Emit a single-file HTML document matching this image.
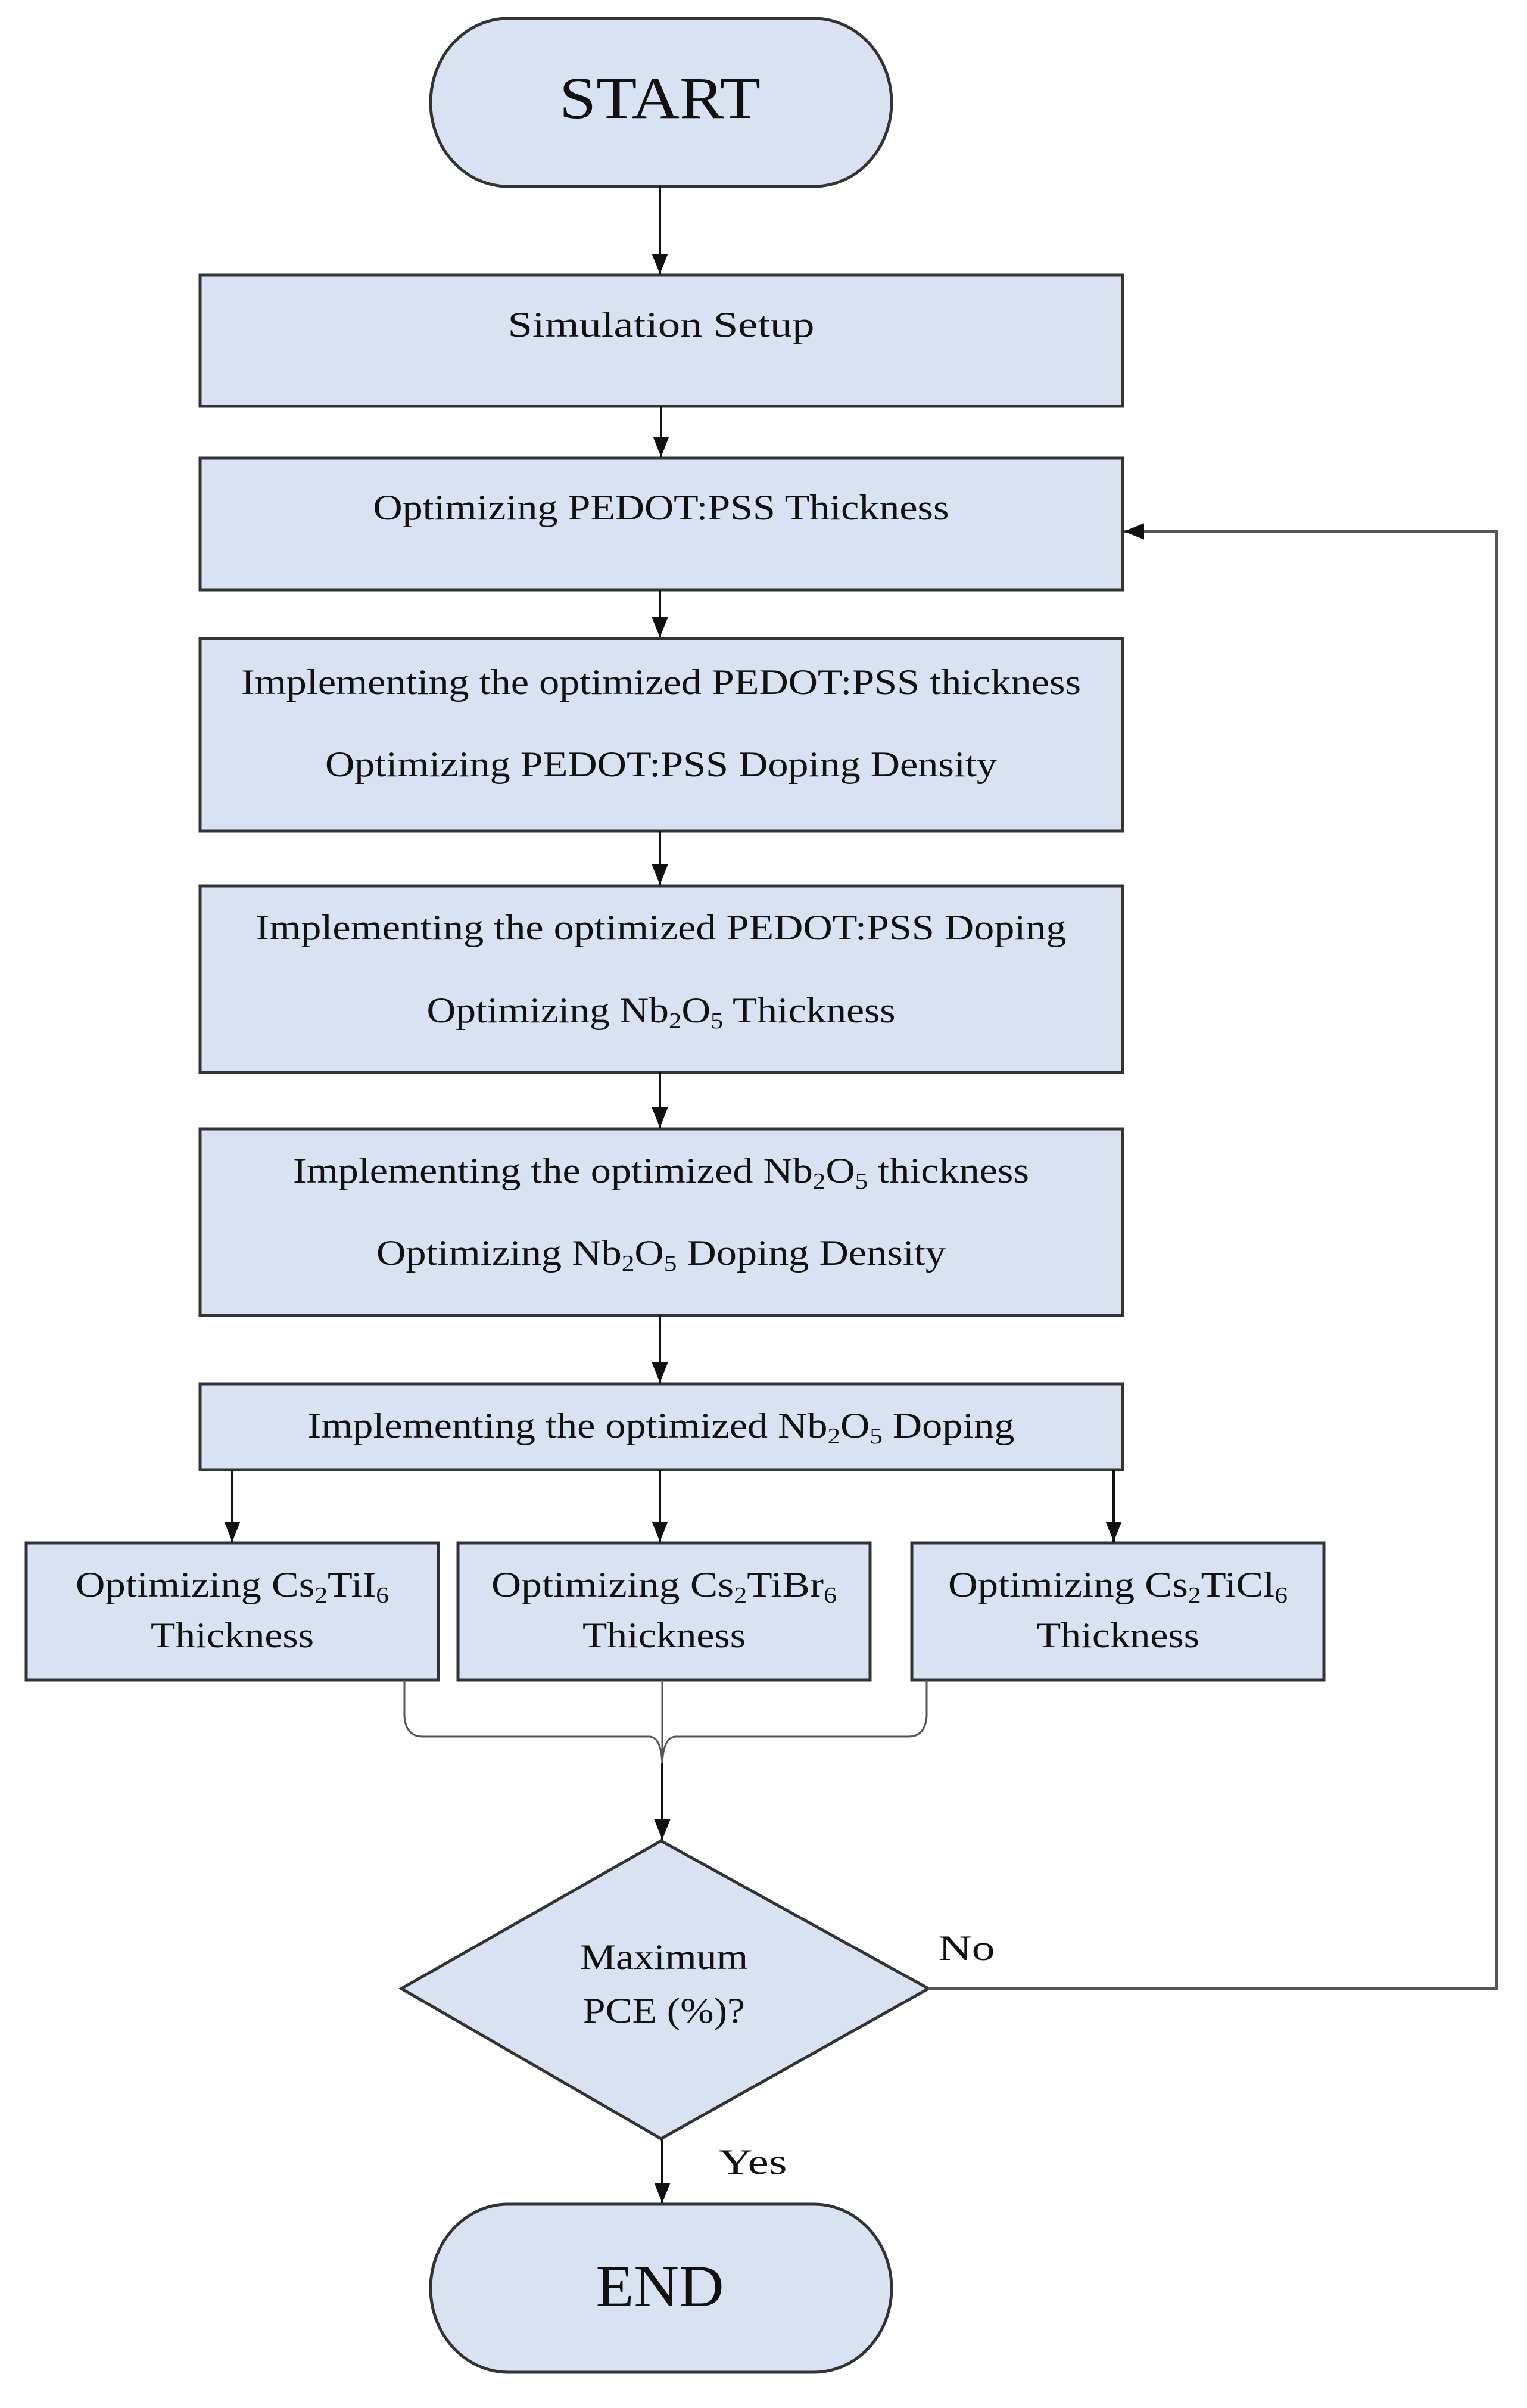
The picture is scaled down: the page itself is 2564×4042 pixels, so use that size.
<!DOCTYPE html>
<html><head><meta charset="utf-8"><style>html,body{margin:0;padding:0;background:#fff}svg{display:block}</style></head>
<body>
<svg width="2564" height="4042" viewBox="0 0 2564 4042" xmlns="http://www.w3.org/2000/svg" font-family="Liberation Serif, serif" fill="#111">
<defs><marker id="a" markerWidth="10" markerHeight="10" refX="9" refY="5" orient="auto" markerUnits="userSpaceOnUse" viewBox="0 0 10 10"><path d="M0,0 L10,5 L0,10 z" fill="#111"/></marker>
<marker id="b" viewBox="0 0 10 10" refX="10" refY="5" markerWidth="34" markerHeight="34" orient="auto" markerUnits="userSpaceOnUse"><path d="M0,1 L10,5 L0,9 z" fill="#111"/></marker></defs>
<g fill="#d9e2f2" stroke="#333" stroke-width="5">
<rect x="723" y="31" width="774" height="282" rx="130" ry="141"/>
<rect x="336" y="462" width="1549" height="220"/>
<rect x="336" y="769" width="1549" height="221"/>
<rect x="336" y="1072" width="1549" height="323"/>
<rect x="336" y="1487" width="1549" height="313"/>
<rect x="336" y="1895" width="1549" height="313"/>
<rect x="336" y="2323" width="1549" height="144"/>
<rect x="44" y="2590" width="692" height="230"/>
<rect x="769" y="2590" width="692" height="230"/>
<rect x="1531" y="2590" width="692" height="230"/>
<polygon points="1110,3090 1559,3338 1110,3590 674,3338"/>
<rect x="723" y="3700" width="774" height="282" rx="130" ry="141"/>
</g>
<g stroke="#111" stroke-width="4" fill="none" marker-end="url(#b)">
<line x1="1108" y1="313" x2="1108" y2="460"/>
<line x1="1110" y1="682" x2="1110" y2="767"/>
<line x1="1108" y1="990" x2="1108" y2="1070"/>
<line x1="1108" y1="1395" x2="1108" y2="1485"/>
<line x1="1108" y1="1800" x2="1108" y2="1893"/>
<line x1="1108" y1="2208" x2="1108" y2="2321"/>
<line x1="390" y1="2467" x2="390" y2="2588"/>
<line x1="1108" y1="2467" x2="1108" y2="2588"/>
<line x1="1870" y1="2467" x2="1870" y2="2588"/>
<line x1="1112" y1="2960" x2="1112" y2="3088"/>
<line x1="1112" y1="3590" x2="1112" y2="3698"/>
<polyline points="1559,3338 2513,3338 2513,892 1887,892" stroke="#555"/>
</g>
<g stroke="#555" stroke-width="3" fill="none">
<path d="M679,2820 L679,2880 Q681,2915 710,2915 L1090,2915 Q1110,2915 1112,2960"/>
<path d="M1556,2820 L1556,2880 Q1554,2915 1525,2915 L1135,2915 Q1114,2915 1112,2960"/>
<line x1="1112" y1="2820" x2="1112" y2="2960"/>
</g>
<g text-anchor="middle" font-size="60" lengthAdjust="spacingAndGlyphs">
<text x="1108" y="198" font-size="100" textLength="338" lengthAdjust="spacingAndGlyphs">START</text>
<text x="1110" y="565" textLength="515" lengthAdjust="spacingAndGlyphs">Simulation Setup</text>
<text x="1110" y="872" textLength="967" lengthAdjust="spacingAndGlyphs">Optimizing PEDOT:PSS Thickness</text>
<text x="1110" y="1165" textLength="1410" lengthAdjust="spacingAndGlyphs">Implementing the optimized PEDOT:PSS thickness</text>
<text x="1110" y="1303" textLength="1128" lengthAdjust="spacingAndGlyphs">Optimizing PEDOT:PSS Doping Density</text>
<text x="1110" y="1577" textLength="1361" lengthAdjust="spacingAndGlyphs">Implementing the optimized PEDOT:PSS Doping</text>
<text x="1110" y="1716" textLength="787" lengthAdjust="spacingAndGlyphs">Optimizing Nb<tspan font-size="38" dy="10">2</tspan><tspan dy="-10">O</tspan><tspan font-size="38" dy="10">5</tspan><tspan dy="-10"> Thickness</tspan></text>
<text x="1110" y="1985" textLength="1236" lengthAdjust="spacingAndGlyphs">Implementing the optimized Nb<tspan font-size="38" dy="10">2</tspan><tspan dy="-10">O</tspan><tspan font-size="38" dy="10">5</tspan><tspan dy="-10"> thickness</tspan></text>
<text x="1110" y="2123" textLength="956" lengthAdjust="spacingAndGlyphs">Optimizing Nb<tspan font-size="38" dy="10">2</tspan><tspan dy="-10">O</tspan><tspan font-size="38" dy="10">5</tspan><tspan dy="-10"> Doping Density</tspan></text>
<text x="1110" y="2413" textLength="1187" lengthAdjust="spacingAndGlyphs">Implementing the optimized Nb<tspan font-size="38" dy="10">2</tspan><tspan dy="-10">O</tspan><tspan font-size="38" dy="10">5</tspan><tspan dy="-10">  Doping</tspan></text>
<text x="390" y="2680" textLength="526" lengthAdjust="spacingAndGlyphs">Optimizing Cs<tspan font-size="38" dy="10">2</tspan><tspan dy="-10">TiI</tspan><tspan font-size="38" dy="10">6</tspan></text>
<text x="390" y="2765" textLength="274" lengthAdjust="spacingAndGlyphs">Thickness</text>
<text x="1115" y="2680" textLength="580" lengthAdjust="spacingAndGlyphs">Optimizing Cs<tspan font-size="38" dy="10">2</tspan><tspan dy="-10">TiBr</tspan><tspan font-size="38" dy="10">6</tspan></text>
<text x="1115" y="2765" textLength="274" lengthAdjust="spacingAndGlyphs">Thickness</text>
<text x="1877" y="2680" textLength="570" lengthAdjust="spacingAndGlyphs">Optimizing Cs<tspan font-size="38" dy="10">2</tspan><tspan dy="-10">TiCl</tspan><tspan font-size="38" dy="10">6</tspan></text>
<text x="1877" y="2765" textLength="274" lengthAdjust="spacingAndGlyphs">Thickness</text>
<text x="1115" y="3305" textLength="282" lengthAdjust="spacingAndGlyphs">Maximum</text>
<text x="1115" y="3395" textLength="272" lengthAdjust="spacingAndGlyphs">PCE (%)?</text>
<text x="1623" y="3290" textLength="95" lengthAdjust="spacingAndGlyphs">No</text>
<text x="1264" y="3649" textLength="115" lengthAdjust="spacingAndGlyphs">Yes</text>
<text x="1108" y="3871" font-size="100" textLength="215" lengthAdjust="spacingAndGlyphs">END</text>
</g>
</svg>
</body></html>
